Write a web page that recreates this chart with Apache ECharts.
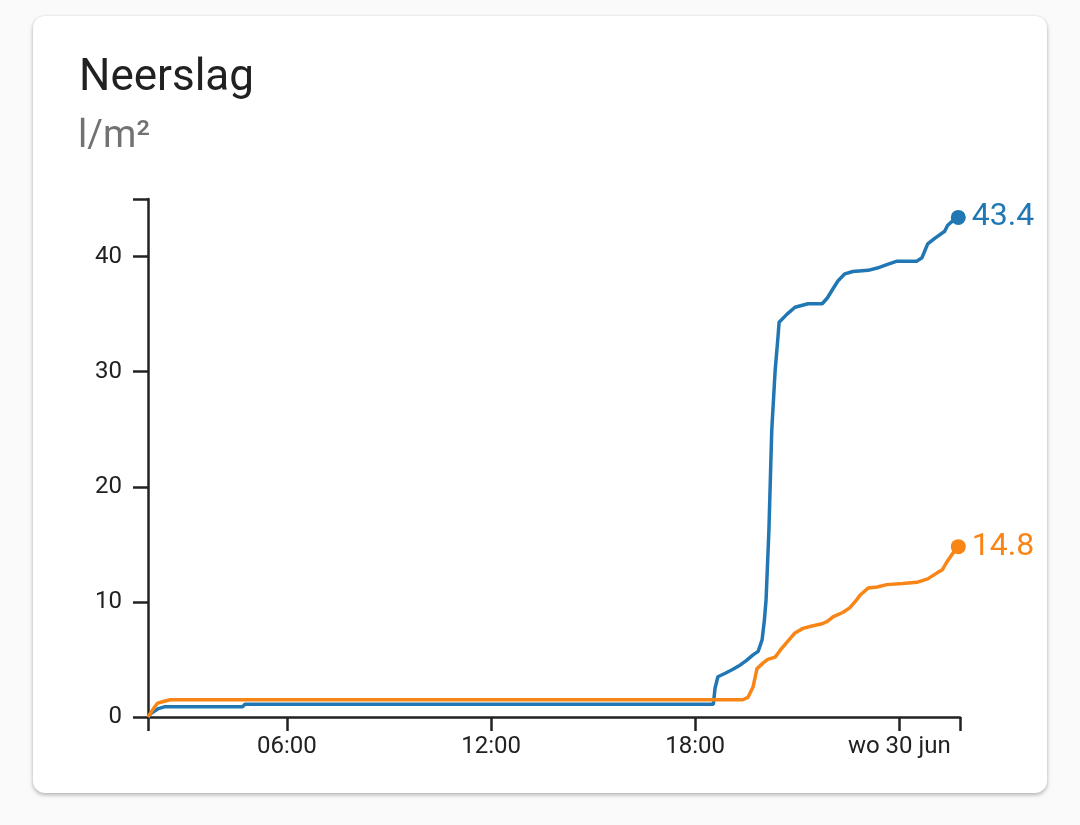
<!DOCTYPE html>
<html>
<head>
<meta charset="utf-8">
<script src="https://cdn.jsdelivr.net/npm/echarts@6/dist/echarts.min.js"></script>
<style>
  html, body { margin: 0; padding: 0; background: #fafafa; }
  #card {
    position: absolute; left: 33px; top: 16px; width: 1014px; height: 777px;
    background: #fff; border-radius: 12px;
    box-shadow: 0 2px 4px rgba(0,0,0,0.28), 0 0 2px rgba(0,0,0,0.08);
  }
  #chart { position: absolute; left: 0; top: 0; width: 1080px; height: 825px; }
</style>
</head>
<body>
<div id="card"></div>
<div id="chart"></div>
<script>
  // tijdas
  const xMin = '2021-06-29T01:55';
  const xMax = '2021-06-30T01:47';
  const xTickTimes = ['2021-06-29T06:00', '2021-06-29T12:00', '2021-06-29T18:00', '2021-06-30T00:00'];
  const xTickLabels = ['06:00', '12:00', '18:00', 'wo 30 jun'];
  const yMax = 45;
  const yTickValues = [0, 10, 20, 30, 40];

  // blauwe reeks
  const blueTimes = [
    '2021-06-29T01:55', '2021-06-29T02:00', '2021-06-29T02:12', '2021-06-29T02:25', '2021-06-29T04:42',
    '2021-06-29T04:46', '2021-06-29T18:32', '2021-06-29T18:35', '2021-06-29T18:40', '2021-06-29T18:53',
    '2021-06-29T19:05', '2021-06-29T19:19', '2021-06-29T19:30', '2021-06-29T19:42', '2021-06-29T19:51',
    '2021-06-29T19:58', '2021-06-29T20:02', '2021-06-29T20:05', '2021-06-29T20:10', '2021-06-29T20:15',
    '2021-06-29T20:21', '2021-06-29T20:26', '2021-06-29T20:28', '2021-06-29T20:42', '2021-06-29T20:56',
    '2021-06-29T21:19', '2021-06-29T21:44', '2021-06-29T21:53', '2021-06-29T22:03', '2021-06-29T22:12',
    '2021-06-29T22:24', '2021-06-29T22:38', '2021-06-29T23:05', '2021-06-29T23:21', '2021-06-29T23:38',
    '2021-06-29T23:56', '2021-06-30T00:31', '2021-06-30T00:40', '2021-06-30T00:50', '2021-06-30T01:03',
    '2021-06-30T01:20', '2021-06-30T01:25', '2021-06-30T01:34', '2021-06-30T01:44'
  ];
  const blueValues = [
    0, 0.3, 0.7, 0.9, 0.9,
    1.1, 1.1, 2.5, 3.5, 3.8,
    4.1, 4.5, 4.9, 5.4, 5.7,
    6.7, 8.4, 10.2, 16.2, 24.9,
    30.1, 33.0, 34.3, 35.0, 35.6,
    35.9, 35.9, 36.4, 37.2, 37.9,
    38.5, 38.7, 38.8, 39.0, 39.3,
    39.6, 39.6, 39.9, 41.1, 41.6,
    42.2, 42.7, 43.1, 43.4
  ];

  // oranje reeks
  const orangeTimes = [
    '2021-06-29T01:55', '2021-06-29T02:07', '2021-06-29T02:12', '2021-06-29T02:19', '2021-06-29T02:34',
    '2021-06-29T19:24', '2021-06-29T19:33', '2021-06-29T19:42', '2021-06-29T19:49', '2021-06-29T20:00',
    '2021-06-29T20:08', '2021-06-29T20:21', '2021-06-29T20:30', '2021-06-29T20:42', '2021-06-29T20:56',
    '2021-06-29T21:10', '2021-06-29T21:26', '2021-06-29T21:44', '2021-06-29T21:53', '2021-06-29T22:03',
    '2021-06-29T22:21', '2021-06-29T22:33', '2021-06-29T22:45', '2021-06-29T22:51', '2021-06-29T23:05',
    '2021-06-29T23:21', '2021-06-29T23:38', '2021-06-30T00:06', '2021-06-30T00:31', '2021-06-30T00:50',
    '2021-06-30T01:06', '2021-06-30T01:16', '2021-06-30T01:23', '2021-06-30T01:34', '2021-06-30T01:44'
  ];
  const orangeValues = [
    0, 0.9, 1.2, 1.3, 1.5,
    1.5, 1.7, 2.6, 4.2, 4.7,
    5.0, 5.2, 5.8, 6.5, 7.3,
    7.7, 7.9, 8.1, 8.3, 8.7,
    9.1, 9.5, 10.2, 10.6, 11.2,
    11.3, 11.5, 11.6, 11.7, 12.0,
    12.5, 12.8, 13.4, 14.2, 14.8
  ];

  const BLUE = '#2077b3';
  const ORANGE = '#f88516';
  const FONT = 'Roboto';

  function ts(s) { return new Date(s).getTime(); }

  // laatste punt krijgt een bolletje met waarde
  function buildData(times, values, color) {
    return times.map(function (t, i) {
      if (i < times.length - 1) return [ts(t), values[i]];
      return {
        value: [ts(t), values[i]],
        symbol: 'circle',
        symbolSize: 15,
        label: {
          show: true, position: 'right', distance: 6,
          formatter: String(values[i]),
          color: color, fontSize: 32, fontFamily: FONT
        }
      };
    });
  }

  const tickMs = xTickTimes.map(ts);

  const chart = echarts.init(document.getElementById('chart'));
  chart.setOption({
    animation: false,
    textStyle: { fontFamily: FONT },
    title: [
      { text: 'Neerslag', left: 79, top: 57, padding: 0,
        textStyle: { fontSize: 44, fontWeight: 'normal', color: '#212121', fontFamily: FONT } },
      { text: 'l/m²', left: 78, top: 118, padding: 0,
        textStyle: { fontSize: 38, fontWeight: 'normal', color: '#727272', fontFamily: FONT } }
    ],
    grid: { left: 148, right: 120, top: 199, bottom: 108, containLabel: false },
    xAxis: {
      // tijd als getal (ms), labels via opzoektabel
      type: 'value',
      min: ts(xMin),
      max: ts(xMax),
      splitLine: { show: false },
      axisLine: { lineStyle: { color: '#222', width: 2.5 } },
      axisTick: {
        show: true, length: 14, lineStyle: { color: '#222', width: 2.5 },
        customValues: [ts(xMin)].concat(tickMs, [ts(xMax)])
      },
      axisLabel: {
        customValues: tickMs,
        margin: 18, fontSize: 24, color: '#212121', fontFamily: FONT,
        formatter: function (v) {
          const i = tickMs.indexOf(v);
          return i >= 0 ? xTickLabels[i] : '';
        }
      }
    },
    yAxis: {
      type: 'value',
      min: 0,
      max: yMax,
      splitLine: { show: false },
      axisLine: { show: true, lineStyle: { color: '#222', width: 2.5 } },
      axisTick: {
        show: true, length: 15, lineStyle: { color: '#222', width: 2.5 },
        customValues: yTickValues.concat([yMax])
      },
      axisLabel: {
        customValues: yTickValues,
        margin: 26, fontSize: 24, color: '#212121', fontFamily: FONT
      }
    },
    series: [
      {
        name: 'blauw', type: 'line', symbol: 'none', showSymbol: true, showAllSymbol: true,
        color: BLUE, lineStyle: { width: 3.5, color: BLUE },
        data: buildData(blueTimes, blueValues, BLUE)
      },
      {
        name: 'oranje', type: 'line', symbol: 'none', showSymbol: true, showAllSymbol: true,
        color: ORANGE, lineStyle: { width: 3.5, color: ORANGE },
        data: buildData(orangeTimes, orangeValues, ORANGE)
      }
    ]
  });
</script>
</body>
</html>
